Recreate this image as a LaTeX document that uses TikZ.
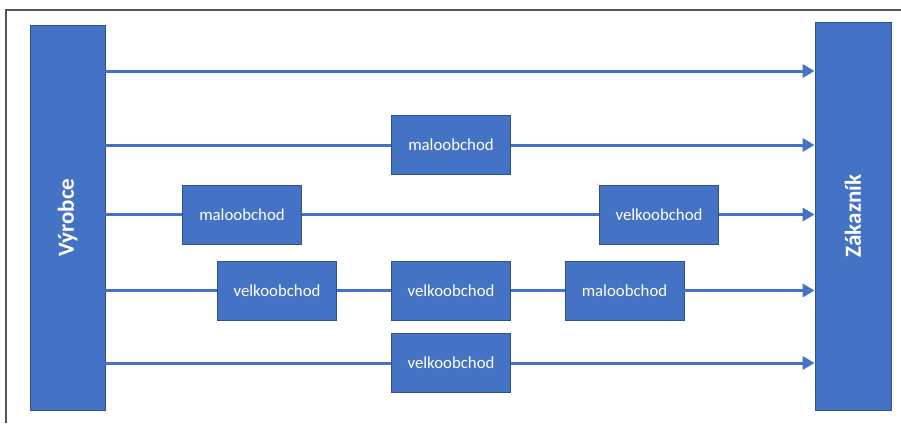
\documentclass[tikz,border=0pt]{standalone}
\usepackage{fontspec}
\setmainfont{Carlito}
\usetikzlibrary{arrows.meta}
\definecolor{boxblue}{HTML}{4472C4}
\definecolor{boxedge}{HTML}{2F528F}
\definecolor{framegray}{HTML}{555555}
\begin{document}
\begin{tikzpicture}[x=1pt,y=-1pt,
  stage/.style={draw=boxedge,fill=boxblue,line width=0.8pt,minimum width=119pt,minimum height=59pt,inner sep=0pt,text=white,font=\fontsize{16.8}{20}\selectfont},
  pillar/.style={draw=boxedge,fill=boxblue,line width=0.8pt,minimum width=75pt,inner sep=0pt,text=white,font=\fontsize{23}{27}\selectfont\bfseries},
  flow/.style={draw=boxblue,line width=3pt},
  flowarrow/.style={flow,-{Triangle[length=12pt,width=13pt]}}]
\useasboundingbox (0,0) rectangle (901,423);
\fill[white] (0,0) rectangle (901,423);
\draw[framegray,line width=1.2pt] (6,423) -- (6,10) -- (901,10);
\node[pillar,minimum height=385pt] (vyr) at (67.5,217.5) {\rotatebox{90}{Výrobce}};
\node[pillar,minimum height=388pt,minimum width=76pt] (zak) at (853,216) {\rotatebox{90}{Zákazník}};
\coordinate (r1) at (400,71);
\node[stage] (m2) at (451,145) {maloobchod};
\node[stage] (m3) at (242,214.5) {maloobchod};
\node[stage] (v3) at (659,214.5) {velkoobchod};
\node[stage] (v4a) at (277,290.5) {velkoobchod};
\node[stage] (v4b) at (451,290.5) {velkoobchod};
\node[stage] (m4) at (624.5,290.5) {maloobchod};
\node[stage] (v5) at (451,363) {velkoobchod};
% row 1
\draw[flowarrow] (vyr.east |- r1) -- (zak.west |- r1);
% row 2
\draw[flow] (vyr.east |- m2) -- (m2.west);
\draw[flowarrow] (m2.east) -- (zak.west |- m2);
% row 3
\draw[flow] (vyr.east |- m3) -- (m3.west);
\draw[flow] (m3.east) -- (v3.west);
\draw[flowarrow] (v3.east) -- (zak.west |- v3);
% row 4
\draw[flow] (vyr.east |- v4a) -- (v4a.west);
\draw[flow] (v4a.east) -- (v4b.west);
\draw[flow] (v4b.east) -- (m4.west);
\draw[flowarrow] (m4.east) -- (zak.west |- m4);
% row 5
\draw[flow] (vyr.east |- v5) -- (v5.west);
\draw[flowarrow] (v5.east) -- (zak.west |- v5);
\end{tikzpicture}
\end{document}
